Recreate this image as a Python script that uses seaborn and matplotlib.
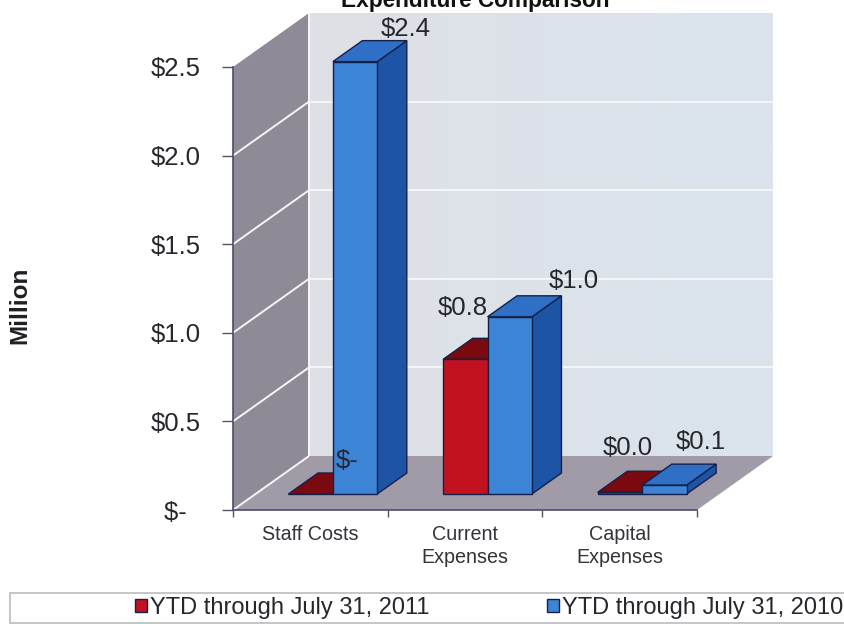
import matplotlib
matplotlib.use("Agg")
import matplotlib.pyplot as plt
from matplotlib.colors import LinearSegmentedColormap
from matplotlib.patches import Polygon, Rectangle
from matplotlib.transforms import Affine2D, IdentityTransform
import numpy as np
import pandas as pd
import seaborn as sns

# Chart data
categories = ["Staff Costs", "Current\nExpenses", "Capital\nExpenses"]
periods = ["YTD through July 31, 2011", "YTD through July 31, 2010"]
values_2011 = [0.0, 0.76, 0.01]
values_2010 = [2.44, 1.0, 0.05]
y_ticks = [0.0, 0.5, 1.0, 1.5, 2.0, 2.5]
y_tick_labels = ["$-  ", "$0.5", "$1.0", "$1.5", "$2.0", "$2.5"]

# Oblique projection, in pixels at dpi 100
ROOM_DX, ROOM_DY = 76, 54
BAR_FRONT = 16 / 54
BAR_BACK = 37 / 54

# Value label offsets in pixels from each bar's front top centre
label_offsets = {
    periods[0]: [(36, 33), (-3, 51), (8, 44)],
    periods[1]: [(51, 33), (64, 36), (36, 43)],
}

face_colors = {periods[0]: "#C2121F", periods[1]: "#3D84D6"}
top_colors = {periods[0]: "#7A0A10", periods[1]: "#2F70C6"}
side_colors = {periods[0]: "#6A060C", periods[1]: "#1D54A6"}
EDGE = "#14204A"
TEXT = "#26262C"

sns.set_theme(style="white")
plt.rcParams["font.family"] = ["Liberation Sans", "DejaVu Sans"]

W, H = 845, 624
fig = plt.figure(figsize=(W / 100, H / 100), dpi=100, facecolor="white")
ax = fig.add_axes([233 / W, (H - 510) / H, 464 / W, 443 / H])
ax.patch.set_alpha(0)

df = pd.DataFrame({
    "category": categories * 2,
    "period": [periods[0]] * 3 + [periods[1]] * 3,
    "value": values_2011 + values_2010,
})
sns.barplot(
    data=df, x="category", y="value", hue="period", hue_order=periods,
    order=categories, palette=face_colors, width=0.574, gap=0, dodge=True,
    edgecolor=EDGE, linewidth=1, saturation=1, ax=ax, errorbar=None,
)
handles, labels = ax.get_legend_handles_labels()
ax.get_legend().remove()

ax.set_xlim(-0.5, 2.5)
ax.set_ylim(0, 2.5)
ax.set_xlabel("")
ax.set_ylabel("")


def project(x, y, depth=0.0):
    """Data point to display pixels, pushed back along the room diagonal."""
    px, py = ax.transData.transform((x, y))
    return (px + depth * ROOM_DX, py + depth * ROOM_DY)


def face(points, color, zorder, edge="none", lw=0.0):
    ax.add_patch(Polygon(points, closed=True, facecolor=color, edgecolor=edge,
                         linewidth=lw, transform=IdentityTransform(),
                         clip_on=False, zorder=zorder))


def room_line(a, b, color="#F4F6F8", lw=1.4, zorder=1.5):
    ax.plot([a[0], b[0]], [a[1], b[1]], color=color, lw=lw, zorder=zorder,
            transform=IdentityTransform(), clip_on=False, solid_capstyle="butt")


x0, x1 = ax.get_xlim()
y0, y1 = ax.get_ylim()

# Back wall with a faint grey-to-blue wash, then side wall and floor
wall_cmap = LinearSegmentedColormap.from_list("wall", ["#DFE0E6", "#DAE4ED"])
wall_left, wall_bottom = project(x0, y0, 1)
wall_right, wall_top = project(x1, y1, 1)
ax.imshow(np.linspace(0, 1, 256).reshape(1, -1), cmap=wall_cmap, aspect="auto",
          extent=(wall_left, wall_right, wall_bottom, wall_top),
          transform=IdentityTransform(), clip_on=False, zorder=0.5)
ax.set_xlim(x0, x1)
ax.set_ylim(y0, y1)
face([project(x0, y0), project(x0, y1), project(x0, y1, 1), project(x0, y0, 1)],
     "#8F8A96", 0.6)
face([project(x0, y0), project(x1, y0), project(x1, y0, 1), project(x0, y0, 1)],
     "#A19BA8", 0.6)

# Gridlines wrapping the left wall and back wall
for t in y_ticks:
    if t < y1:
        room_line(project(x0, t), project(x0, t, 1))
    if 0 < t < y1:
        room_line(project(x0, t, 1), project(x1, t, 1))
room_line(project(x0, y0, 1), project(x0, y1, 1))

# Extruded bars: front faces come from seaborn, sides and tops follow each bar
front_shift = Affine2D().translate(BAR_FRONT * ROOM_DX, BAR_FRONT * ROOM_DY)
bar_transform = ax.transData + front_shift
for s, (period, container) in enumerate(zip(periods, ax.containers)):
    for i, bar in enumerate(container):
        bx0, bx1 = bar.get_x(), bar.get_x() + bar.get_width()
        h = bar.get_height()
        bar.set_transform(bar_transform)
        bar.set_clip_on(False)
        bar.set_zorder(4 + 2 * s)
        face([project(bx1, 0, BAR_FRONT), project(bx1, h, BAR_FRONT),
              project(bx1, h, BAR_BACK), project(bx1, 0, BAR_BACK)],
             side_colors[period], 3 + 2 * s, EDGE, 1)
        face([project(bx0, h, BAR_FRONT), project(bx1, h, BAR_FRONT),
              project(bx1, h, BAR_BACK), project(bx0, h, BAR_BACK)],
             top_colors[period], 3 + 2 * s, EDGE, 1)
        text = "$-" if h == 0 else f"${h:.1f}"
        ax.annotate(text, xy=((bx0 + bx1) / 2, h), xycoords=bar_transform,
                    xytext=label_offsets[period][i], textcoords="offset pixels",
                    ha="center", va="center", fontsize=18.5, color=TEXT, zorder=10,
                    annotation_clip=False)

# Axes frame and ticks
for name in ("top", "right"):
    ax.spines[name].set_visible(False)
for name in ("left", "bottom"):
    ax.spines[name].set_color("#4C4A70")
    ax.spines[name].set_linewidth(1.2)
    ax.spines[name].set_zorder(2)

ax.set_yticks(y_ticks)
ax.set_yticklabels(y_tick_labels)
ax.tick_params(axis="y", left=True, length=8, width=1, color="#55555F", pad=15,
               labelsize=18.5, labelcolor=TEXT)
ax.set_xticks([-0.5, 0.5, 1.5, 2.5], minor=False)
ax.set_xticklabels([""] * 4)
ax.tick_params(axis="x", bottom=True, length=5, width=1, color="#55555F")
for i, name in enumerate(categories):
    ax.annotate(name, xy=(i, 0), xycoords="data", xytext=(0, -15),
                textcoords="offset pixels", ha="center", va="top", fontsize=14.2,
                color="#33333A", linespacing=1.28, annotation_clip=False)

fig.text(475 / W, 1 - 7 / H, "Expenditure Comparison", ha="center", va="baseline",
         fontsize=16.3, fontweight="bold", color="#111111")
fig.text(20 / W, 1 - 305 / H, "Million", rotation=90, ha="center", va="center",
         fontsize=17.5, fontweight="bold", color="#202024")

# Legend strip along the bottom edge
fig.add_artist(Rectangle((10 / W, 1 / H), (W + 5) / W, 30 / H, transform=fig.transFigure,
                         facecolor="white", edgecolor="#B9BDBD", linewidth=1.2))
leg = fig.legend(
    handles, labels, ncol=2, frameon=False, loc="center left",
    bbox_to_anchor=(135 / W, 1 - 608 / H), fontsize=17, labelcolor=TEXT,
    handlelength=0.5, handleheight=0.5, handletextpad=0.12, columnspacing=5.0,
    borderpad=0, borderaxespad=0,
)

fig.savefig("out.png", dpi=100, facecolor="white")
